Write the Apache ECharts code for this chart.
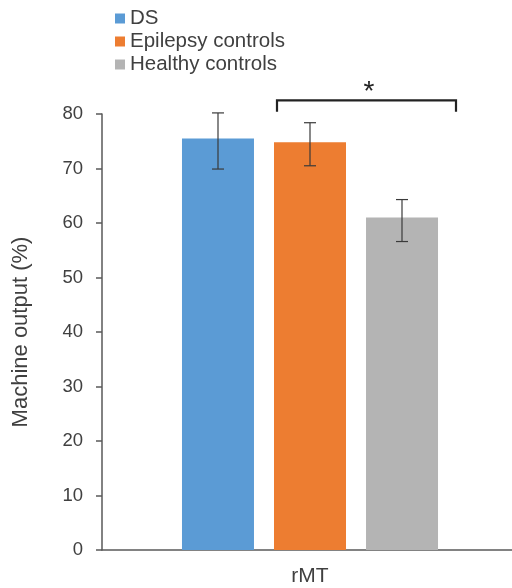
<!DOCTYPE html>
<html><head><meta charset="utf-8">
<script src="https://cdn.jsdelivr.net/npm/echarts@6/dist/echarts.min.js"></script>
<style>html,body{margin:0;padding:0;background:#fff;overflow:hidden;width:512px;height:588px}#c{width:518px;height:588px}</style>
</head><body><div id="c"></div>
<script>
var categories = ['rMT'];
var seriesNames = ['DS', 'Epilepsy controls', 'Healthy controls'];
var meanValues = [75.5, 74.8, 61.0];
var errLow = [69.9, 70.5, 56.6];
var errHigh = [80.2, 78.4, 64.3];
var yTicks = [0, 10, 20, 30, 40, 50, 60, 70, 80];
var bracketLevels = [80.4, 82.5];
var colors = ['#5B9BD5', '#ED7D31', '#B4B4B4'];

var BAR_W = 72, STEP = 92;
var txt = '#404040';
var FONT = 'Liberation Sans, Arial, sans-serif';
var chart = echarts.init(document.getElementById('c'));
var series = seriesNames.map(function (n, i) {
  return { name: n, type: 'bar', data: [meanValues[i]], barWidth: BAR_W, barGap: '27.8%',
    itemStyle: { color: colors[i] }, z: 2 };
});
series.push({
  type: 'custom', name: 'err', silent: true, z: 5,
  data: seriesNames.map(function (n, i) { return [i, errLow[i], errHigh[i]]; }),
  renderItem: function (params, api) {
    var i = api.value(0);
    var lo = api.coord([0, api.value(1)]);
    var hi = api.coord([0, api.value(2)]);
    var x = lo[0] + (i - 1) * STEP;
    var st = { stroke: '#3a3a3a', lineWidth: 1.2 };
    return { type: 'group', children: [
      { type: 'line', shape: { x1: x, y1: lo[1], x2: x, y2: hi[1] }, style: st },
      { type: 'line', shape: { x1: x - 6, y1: lo[1], x2: x + 6, y2: lo[1] }, style: st },
      { type: 'line', shape: { x1: x - 6, y1: hi[1], x2: x + 6, y2: hi[1] }, style: st }
    ]};
  },
  clip: false
});
series.push({
  type: 'custom', name: 'sig', silent: true, z: 5, clip: false,
  data: [[0, bracketLevels[0], bracketLevels[1]]],
  renderItem: function (params, api) {
    var b = api.coord([0, api.value(1)]);
    var t = api.coord([0, api.value(2)]);
    var cx = b[0];
    var x1 = cx - 33, x2 = cx + 146;
    var st = { stroke: '#222', lineWidth: 2.2, fill: null, lineJoin: 'miter' };
    return { type: 'group', children: [
      { type: 'polyline', shape: { points: [[x1, b[1]], [x1, t[1]], [x2, t[1]], [x2, b[1]]] }, style: st },
      { type: 'text', style: { text: '*', x: (x1 + x2) / 2 + 2.5, y: t[1] - 8, fill: '#222',
        font: '28px ' + FONT, textAlign: 'center', textVerticalAlign: 'middle' } }
    ]};
  }
});
chart.setOption({
  animation: false,
  textStyle: { fontFamily: FONT },
  legend: {
    data: seriesNames, orient: 'vertical', left: 110, top: 3, itemWidth: 10, itemHeight: 10,
    itemGap: 2, icon: 'rect',
    textStyle: { fontSize: 20.5, color: txt, fontFamily: FONT }
  },
  grid: { left: 102, right: 0, top: 114, bottom: 38 },
  xAxis: {
    type: 'category', data: categories,
    axisLine: { lineStyle: { color: '#595959', width: 1.5 } },
    axisTick: { show: false },
    axisLabel: { fontSize: 21, color: txt, margin: 16 }
  },
  yAxis: {
    type: 'value', min: 0, max: 80, interval: 10,
    name: 'Machine output (%)', nameLocation: 'middle', nameGap: 70,
    nameTextStyle: { fontSize: 22, color: txt },
    axisLine: { show: true, lineStyle: { color: '#595959', width: 1.5 } },
    axisTick: { show: true, length: 6, lineStyle: { color: '#595959', width: 1.5 } },
    splitLine: { show: false },
    axisLabel: { fontSize: 18.5, color: txt, margin: 19,
      formatter: function (v) { return yTicks.indexOf(v) >= 0 ? String(v) : ''; } }
  },
  series: series
});
</script></body></html>
